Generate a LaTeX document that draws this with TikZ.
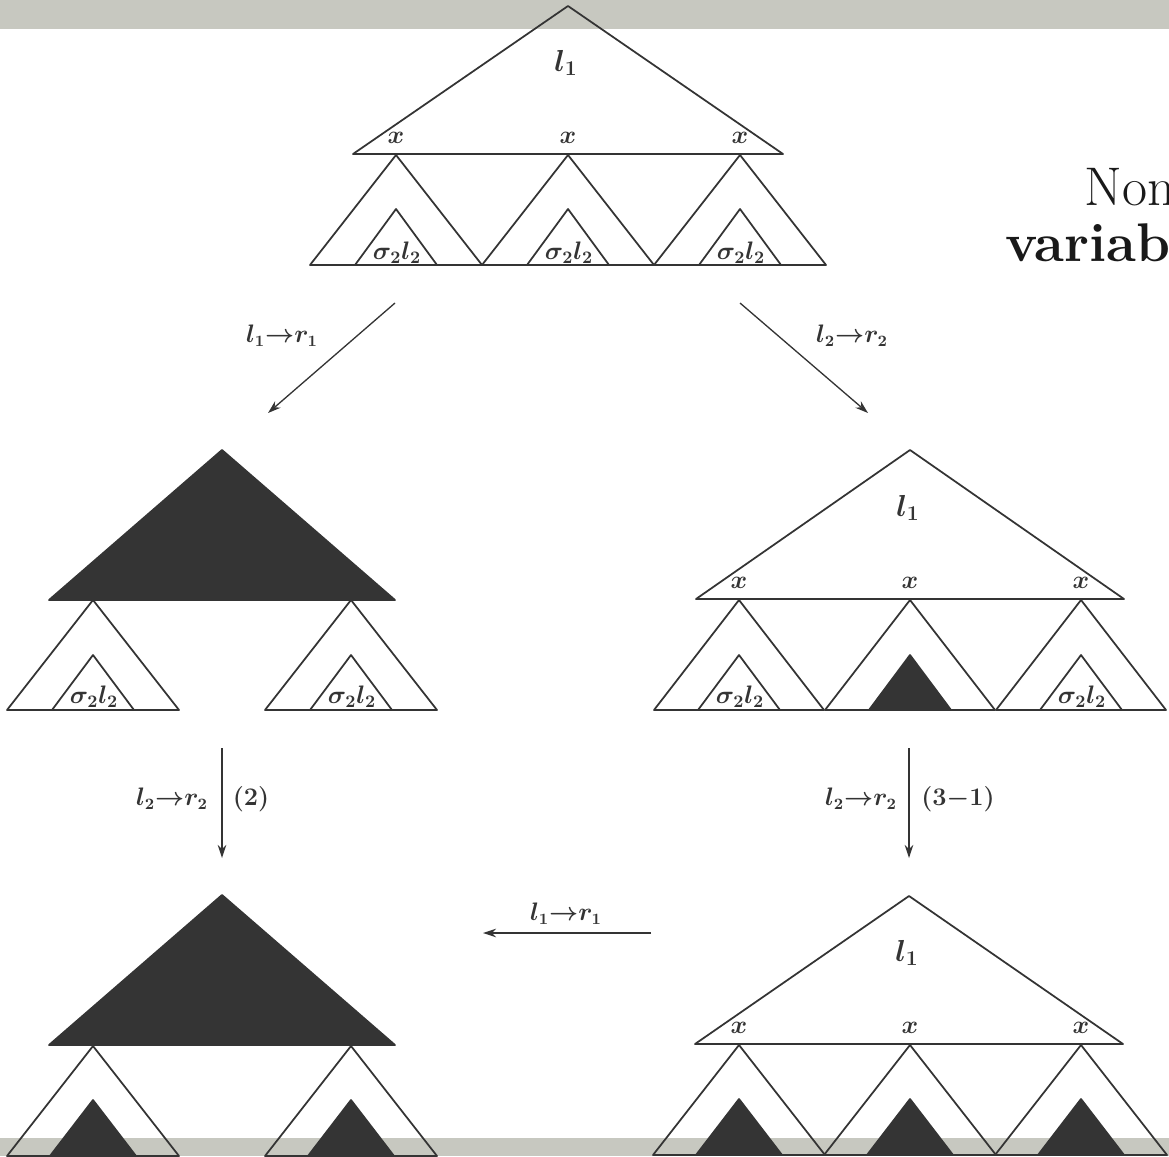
\documentclass[tikz,border=0pt]{standalone}
\usepackage{amsmath}
\usetikzlibrary{arrows.meta}
\definecolor{band}{RGB}{199,200,192}
\definecolor{ink}{RGB}{52,52,52}

\begin{document}
\begin{tikzpicture}[
  x=0.02cm, y=-0.02cm,
  line join=round,
  tri/.style ={draw=ink, line width=1pt},
  blk/.style ={draw=ink, fill=ink, line width=1pt},
  rew/.style ={-{Stealth[length=2.6mm,width=1.7mm]}, draw=ink, line width=0.75pt},
  big/.style ={font=\fontsize{18}{20}\selectfont\boldmath, text=ink, inner sep=0pt},
  var/.style ={font=\fontsize{14}{16}\selectfont\boldmath, text=ink, inner sep=0pt},
  sub/.style ={font=\fontsize{14.5}{16}\selectfont\boldmath, text=ink, inner sep=0pt},
  lab/.style ={font=\fontsize{13.5}{15}\selectfont\boldmath, text=ink, inner sep=0pt},
  slide/.style={font=\fontsize{31}{36}\selectfont, text=black!90, inner sep=0pt, anchor=base west},
]
\useasboundingbox (0,0) rectangle (1169,1156);
\clip (0,0) rectangle (1169,1156);

% slide frame bands
\fill[band] (0,0) rectangle (1169,29);
\fill[band] (0,1138) rectangle (1169,1156);

% ======================= top term =======================
\begin{scope}[shift={(568,6)}]
  \draw[tri] (0,0) -- (215,148) -- (-215,148) -- cycle;
  \node[big] (t1l) at (-2,57) {$l_1$};
  \foreach \i/\dx in {1/-172,2/0,3/172} {
    \node[var] (t1x\i) at (\dx,132) {$x$};
    \draw[tri] (\dx,149) -- (\dx+86,259) -- (\dx-86,259) -- cycle;
    \draw[tri] (\dx,203) -- (\dx+41,259) -- (\dx-41,259) -- cycle;
    \node[sub] (t1s\i) at (\dx+1,247) {$\sigma_2 l_2$};
  }
\end{scope}

% ======================= left: after l1 -> r1 =======================
\begin{scope}[shift={(222,450)}]
  \draw[blk] (0,0) -- (173,150) -- (-173,150) -- cycle;
  \foreach \i/\dx in {1/-129,2/129} {
    \draw[tri] (\dx,150) -- (\dx+86,260) -- (\dx-86,260) -- cycle;
    \draw[tri] (\dx,205) -- (\dx+41,260) -- (\dx-41,260) -- cycle;
    \node[sub] (t2s\i) at (\dx+1,247) {$\sigma_2 l_2$};
  }
\end{scope}

% ======================= right: after l2 -> r2 =======================
\begin{scope}[shift={(910,450)}]
  \draw[tri] (0,0) -- (214,149) -- (-214,149) -- cycle;
  \node[big] (t3l) at (-2,58) {$l_1$};
  \foreach \i/\dx in {1/-171,2/0,3/171} {
    \node[var] (t3x\i) at (\dx,133) {$x$};
    \draw[tri] (\dx,150) -- (\dx+85,260) -- (\dx-85,260) -- cycle;
  }
  \draw[tri] (-171,205) -- (-130,260) -- (-212,260) -- cycle;
  \node[sub] (t3s1) at (-170,247) {$\sigma_2 l_2$};
  \draw[blk] (0,205) -- (41,260) -- (-41,260) -- cycle;
  \draw[tri] (171,205) -- (212,260) -- (130,260) -- cycle;
  \node[sub] (t3s3) at (172,247) {$\sigma_2 l_2$};
\end{scope}

% ======================= bottom left: normal form =======================
\begin{scope}[shift={(222,895)}]
  \draw[blk] (0,0) -- (173,150) -- (-173,150) -- cycle;
  \foreach \dx in {-129,129} {
    \draw[tri] (\dx,151) -- (\dx+86,261) -- (\dx-86,261) -- cycle;
    \draw[blk] (\dx,205) -- (\dx+43,261) -- (\dx-43,261) -- cycle;
  }
\end{scope}

% ======================= bottom right =======================
\begin{scope}[shift={(909,896)}]
  \draw[tri] (0,0) -- (214,148) -- (-214,148) -- cycle;
  \node[big] (t5l) at (-2,57) {$l_1$};
  \foreach \i/\dx in {1/-170,2/1,3/172} {
    \node[var] (t5x\i) at (\dx,132) {$x$};
    \draw[tri] (\dx,149) -- (\dx+86,259) -- (\dx-86,259) -- cycle;
    \draw[blk] (\dx,203) -- (\dx+43,259) -- (\dx-43,259) -- cycle;
  }
\end{scope}

% ======================= rewrite steps =======================
\coordinate (a1s) at (395,303);
\coordinate (a1e) at (268,413);
\coordinate (a2s) at (740,303);
\coordinate (a2e) at (868,413);
\coordinate (a3s) at (222,748);
\coordinate (a3e) at (222,858);
\coordinate (a4s) at (909,748);
\coordinate (a4e) at (909,858);
\coordinate (a5s) at (651,933);
\coordinate (a5e) at (483,933);

\draw[rew] (a1s) -- (a1e);
\draw[rew] (a2s) -- (a2e);
\draw[rew] (a3s) -- (a3e);
\draw[rew] (a4s) -- (a4e);
\draw[rew] (a5s) -- (a5e);

\node[lab] (a1l)  at (282,336) {$l_1{\to}r_1$};
\node[lab] (a2l)  at (852,336) {$l_2{\to}r_2$};
\node[lab] (a3l)  at (172,799) {$l_2{\to}r_2$};
\node[lab] (a3n)  at (251,799) {$(2)$};
\node[lab] (a4l)  at (861,799) {$l_2{\to}r_2$};
\node[lab] (a4n)  at (958,799) {$(3{-}1)$};
\node[lab] (a5l)  at (566,914) {$l_1{\to}r_1$};

% slide text behind the figure edge
\node[slide] (non) at (1084,205) {Non};
\node[slide, font=\fontsize{31}{36}\selectfont\bfseries] (var) at (1005,261) {variab};
\end{tikzpicture}
\end{document}
